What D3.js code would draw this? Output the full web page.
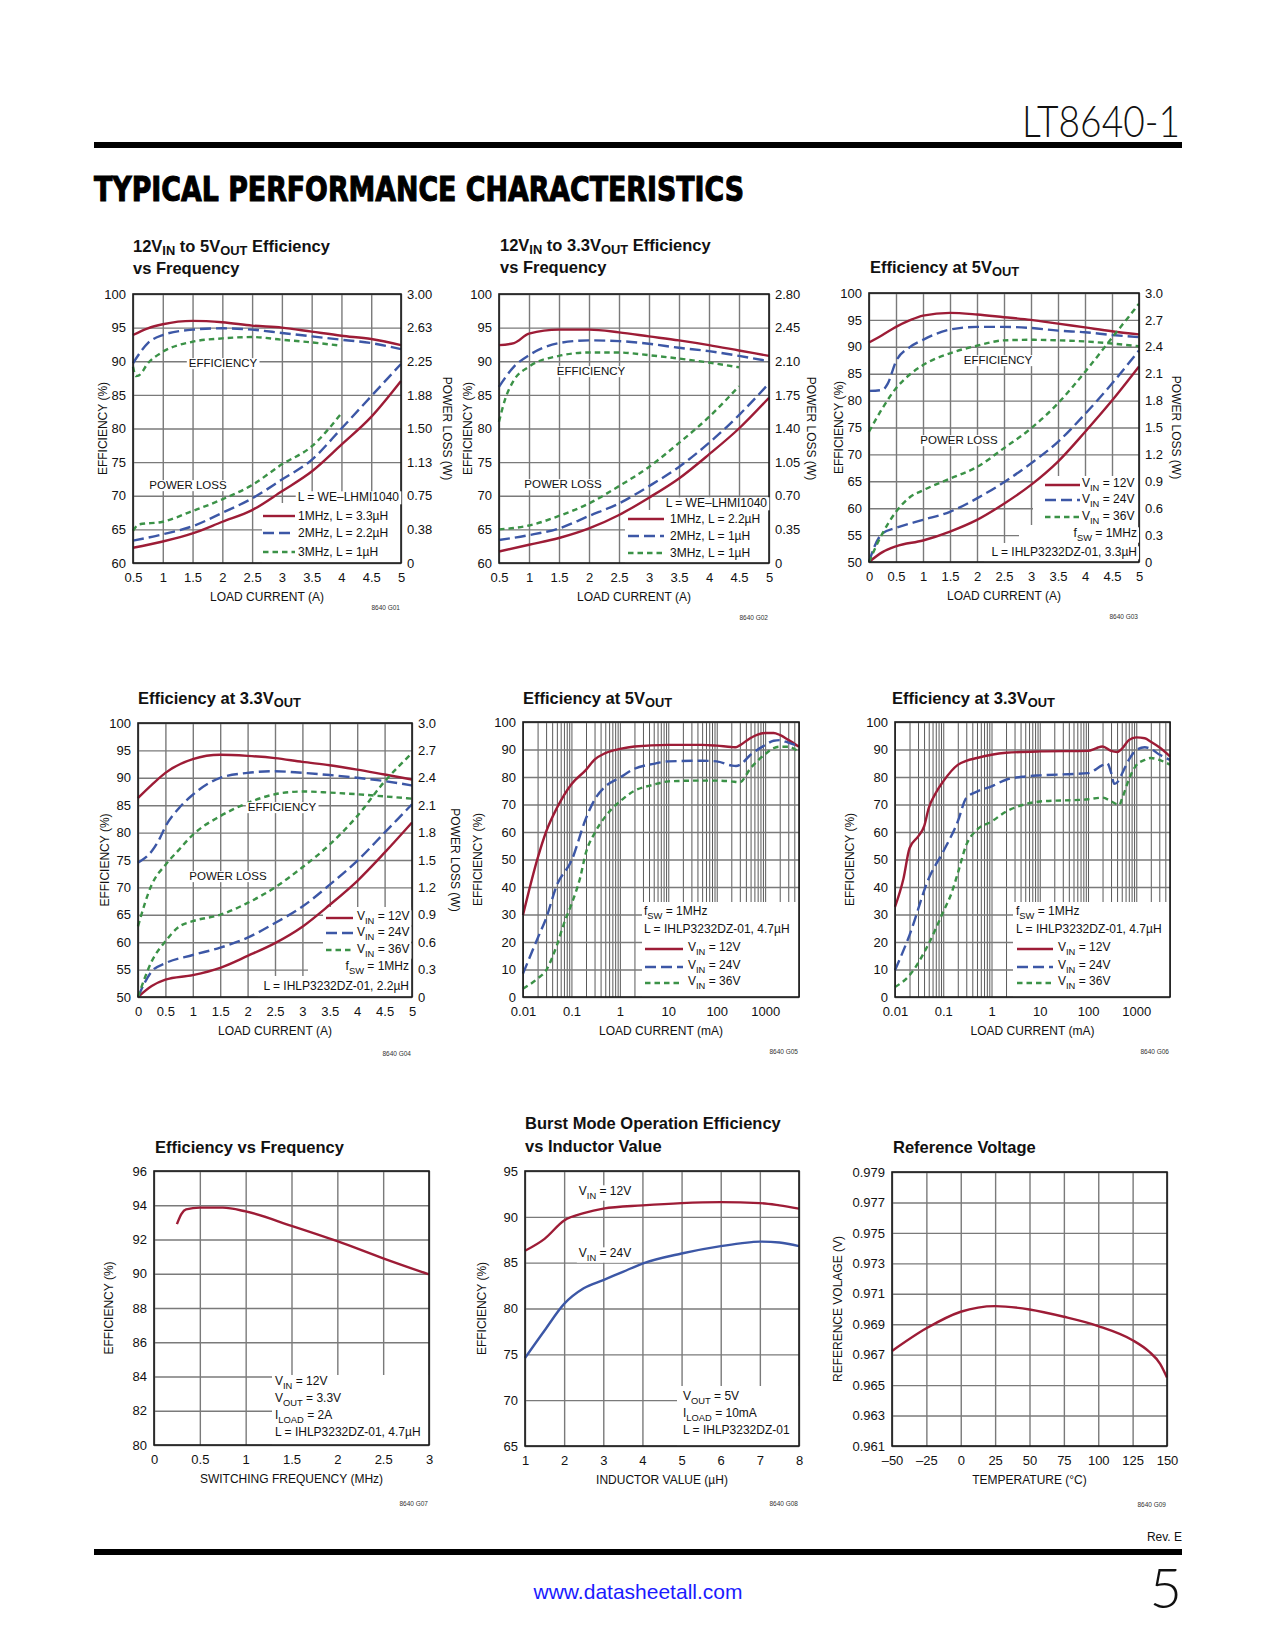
<!DOCTYPE html>
<html>
<head>
<meta charset="utf-8">
<script src="https://cdn.jsdelivr.net/npm/d3@7"></script>
<style>
  body { margin: 0; background: #fff; }
  svg { display: block; }
</style>
</head>
<body>
<script>
// LT8640-1 typical performance characteristics page (9 small charts)

// ---------- data ----------
// G01: 12Vin -> 5Vout efficiency vs frequency
const g01Load = [0.5, 0.75, 1, 1.5, 2, 2.5, 3, 3.5, 4, 4.5, 5];
const g01Eff1MHz = [93.9, 94.9, 95.5, 96.0, 95.8, 95.3, 95.0, 94.4, 93.8, 93.3, 92.4];
const g01Eff2MHz = [89.7, 92.7, 93.9, 94.7, 94.9, 94.7, 94.2, 93.7, 93.2, 92.7, 91.8];
const g01Load3MHz = [0.5, 0.55, 0.6, 0.75, 1, 1.5, 2, 2.5, 3, 3.5, 4];
const g01Eff3MHz = [89.2, 87.8, 87.9, 89.7, 91.4, 92.9, 93.4, 93.6, 93.2, 92.8, 92.3];
const g01LossLoad = [0.5, 1, 1.5, 2, 2.5, 3, 3.5, 4, 4.5, 5];
const g01Loss1MHz = [0.17, 0.24, 0.33, 0.46, 0.59, 0.80, 1.02, 1.32, 1.63, 2.03];
const g01Loss2MHz = [0.25, 0.32, 0.41, 0.56, 0.72, 0.93, 1.15, 1.50, 1.86, 2.22];
const g01LossLoad3 = [0.5, 0.6, 1, 1.5, 2, 2.5, 3, 3.5, 4];
const g01Loss3MHz = [0.36, 0.43, 0.46, 0.58, 0.71, 0.87, 1.10, 1.30, 1.67];

// G02: 12Vin -> 3.3Vout efficiency vs frequency
const g02Load = [0.5, 0.75, 1, 1.5, 2, 2.5, 3, 3.5, 4, 4.5, 5];
const g02Eff1MHz = [92.4, 92.7, 94.1, 94.7, 94.7, 94.3, 93.7, 93.1, 92.4, 91.6, 90.8];
const g02Eff2MHz = [86.2, 89.2, 90.9, 92.7, 93.1, 93.0, 92.6, 92.0, 91.5, 90.8, 90.0];
const g02Load3MHz = [0.5, 0.6, 0.75, 1, 1.5, 2, 2.5, 3, 3.5, 4, 4.5];
const g02Eff3MHz = [81.0, 84.3, 87.2, 89.2, 90.8, 91.3, 91.3, 90.9, 90.4, 89.8, 89.1];
const g02LossLoad = [0.5, 1, 1.5, 2, 2.5, 3, 3.5, 4, 4.5, 5];
const g02Loss1MHz = [0.12, 0.19, 0.26, 0.36, 0.50, 0.68, 0.88, 1.13, 1.40, 1.72];
const g02Loss2MHz = [0.24, 0.29, 0.36, 0.49, 0.62, 0.80, 1.00, 1.25, 1.54, 1.87];
const g02LossLoad3 = [0.5, 1, 1.5, 2, 2.5, 3, 3.5, 4, 4.5];
const g02Loss3MHz = [0.35, 0.39, 0.49, 0.62, 0.80, 1.00, 1.25, 1.52, 1.84];

// G03: efficiency at 5Vout
const g03Load = [0, 0.25, 0.5, 0.75, 1, 1.5, 2, 2.5, 3, 3.5, 4, 4.5, 5];
const g03Eff12V = [90.8, 92.2, 93.7, 94.9, 95.8, 96.3, 96.0, 95.5, 95.0, 94.3, 93.6, 92.9, 92.3];
const g03Load24V = [0, 0.25, 0.35, 0.5, 0.75, 1, 1.5, 2, 2.5, 3, 3.5, 4, 4.5, 5];
const g03Eff24V = [81.8, 82.0, 83.2, 87.3, 89.9, 91.3, 93.2, 93.7, 93.7, 93.5, 93.0, 92.7, 92.2, 91.8];
const g03Eff36V = [74.2, 78.6, 82.3, 84.8, 86.6, 88.8, 90.2, 91.2, 91.3, 91.2, 91.0, 90.6, 90.1];
const g03LossLoad = [0, 0.25, 0.5, 1, 1.5, 2, 2.5, 3, 3.5, 4, 4.5, 5];
const g03Loss12V = [0, 0.11, 0.175, 0.24, 0.34, 0.47, 0.65, 0.86, 1.12, 1.45, 1.80, 2.18];
const g03LossLoad24 = [0, 0.1, 0.25, 0.5, 1, 1.5, 2, 2.5, 3, 3.5, 4, 4.5, 5];
const g03Loss24V = [0, 0.17, 0.32, 0.38, 0.47, 0.56, 0.71, 0.89, 1.10, 1.34, 1.65, 1.99, 2.36];
const g03LossLoad36 = [0, 0.25, 0.5, 0.75, 1, 1.5, 2, 2.5, 3, 3.5, 4, 4.5, 5];
const g03Loss36V = [0, 0.32, 0.56, 0.72, 0.80, 0.93, 1.06, 1.27, 1.49, 1.77, 2.12, 2.50, 2.88];

// G04: efficiency at 3.3Vout
const g04Load = [0, 0.25, 0.5, 1, 1.5, 2, 2.5, 3, 3.5, 4, 4.5, 5];
const g04Eff12V = [86.3, 88.7, 90.9, 93.4, 94.2, 94.0, 93.6, 92.9, 92.3, 91.5, 90.6, 89.7];
const g04Load24V = [0, 0.25, 0.4, 0.5, 0.75, 1, 1.5, 2, 2.5, 3, 3.5, 4, 4.5, 5];
const g04Eff24V = [74.5, 76.6, 79.0, 81.1, 84.5, 86.9, 90.0, 90.9, 91.2, 90.9, 90.5, 90.0, 89.4, 88.6];
const g04Load36V = [0, 0.25, 0.5, 0.75, 1, 1.5, 2, 2.5, 3, 3.5, 4, 4.5, 5];
const g04Eff36V = [62.9, 70.5, 74.1, 76.9, 79.6, 83.0, 85.4, 87.0, 87.5, 87.3, 87.0, 86.6, 86.2];
const g04Loss12V = [0, 0.12, 0.19, 0.24, 0.32, 0.45, 0.59, 0.77, 1.01, 1.27, 1.58, 1.91];
const g04Loss24V = [0, 0.28, 0.37, 0.46, 0.54, 0.65, 0.81, 0.99, 1.23, 1.49, 1.80, 2.11];
const g04Loss36V = [0, 0.39, 0.61, 0.77, 0.83, 0.90, 1.03, 1.20, 1.42, 1.67, 1.98, 2.36, 2.67];

// G05: efficiency at 5Vout, light load (mA, log)
const g05Load12V = [0.01, 0.02, 0.03, 0.05, 0.1, 0.2, 0.3, 0.5, 1, 2, 10, 50, 100, 200, 250, 300, 500, 700, 1000, 1500, 2000, 3000, 5000];
const g05Eff12V = [29.8, 50.4, 60.1, 68.7, 77.4, 82.6, 86.3, 88.7, 90.2, 91.1, 91.7, 91.7, 91.4, 90.9, 90.8, 91.5, 94.2, 95.4, 96.0, 96.0, 95.3, 93.5, 91.0];
const g05Load24V = [0.01, 0.02, 0.03, 0.05, 0.1, 0.2, 0.3, 0.5, 1, 2, 5, 10, 50, 100, 200, 250, 300, 500, 1000, 1500, 2000, 3000, 5000];
const g05Eff24V = [8.5, 21.3, 28.6, 40.7, 49.5, 65.0, 71.7, 76.5, 79.8, 83.0, 84.8, 85.7, 85.9, 85.7, 84.2, 84.0, 84.4, 88.1, 91.6, 93.2, 93.4, 92.5, 91.1];
const g05Load36V = [0.01, 0.02, 0.03, 0.05, 0.07, 0.1, 0.15, 0.2, 0.3, 0.5, 1, 2, 5, 10, 50, 100, 200, 300, 500, 1000, 1500, 2000, 3000, 5000];
const g05Eff36V = [3.0, 6.7, 9.7, 18.8, 26.7, 33.7, 43.1, 52.6, 59.5, 65.6, 71.1, 75.0, 77.2, 78.4, 78.7, 78.7, 78.4, 78.1, 83.2, 88.3, 90.5, 91.0, 91.0, 89.0];

// G06: efficiency at 3.3Vout, light load (mA, log)
const g06Load12V = [0.01, 0.015, 0.02, 0.03, 0.04, 0.05, 0.07, 0.1, 0.2, 0.3, 0.5, 1, 2, 10, 100, 150, 200, 300, 400, 500, 700, 1000, 1500, 2000, 3000, 5000];
const g06Eff12V = [32.8, 43.1, 54.1, 58.3, 62.0, 68.7, 74.2, 78.4, 84.4, 85.9, 86.9, 88.1, 88.8, 89.3, 89.5, 90.5, 91.1, 89.5, 89.1, 90.2, 93.4, 94.4, 94.1, 92.8, 90.8, 87.5];
const g06Load24V = [0.01, 0.02, 0.05, 0.1, 0.2, 0.3, 0.5, 1, 2, 5, 10, 50, 100, 200, 250, 300, 350, 400, 500, 700, 1000, 1500, 2000, 3000, 5000];
const g06Eff24V = [9.7, 22.5, 43.1, 52.9, 63.8, 72.4, 74.7, 76.6, 79.0, 80.2, 80.6, 81.1, 81.4, 84.3, 85.0, 81.7, 77.5, 78.0, 81.0, 86.2, 89.8, 90.8, 90.2, 88.2, 86.2];
const g06Load36V = [0.01, 0.02, 0.05, 0.1, 0.15, 0.2, 0.3, 0.5, 1, 2, 5, 10, 100, 200, 300, 400, 450, 500, 700, 1000, 1500, 2000, 3000, 5000];
const g06Eff36V = [3.6, 7.9, 19.4, 31.0, 38.0, 45.0, 55.3, 60.8, 63.8, 67.4, 70.1, 71.1, 71.9, 72.5, 71.2, 70.1, 69.9, 71.8, 79.0, 84.3, 86.2, 86.9, 86.2, 84.5];

// G07: efficiency vs switching frequency
const g07Freq = [0.25, 0.3, 0.35, 0.5, 0.75, 1, 1.5, 2, 2.5, 3];
const g07Eff = [92.9, 93.5, 93.76, 93.86, 93.86, 93.64, 92.8, 91.9, 90.9, 89.96];

// G08: Burst Mode efficiency vs inductor value
const g08L12V = [1, 1.5, 2, 2.5, 3, 4, 5, 6, 7, 7.5, 8];
const g08Eff12V = [86.3, 87.6, 89.6, 90.4, 90.9, 91.25, 91.5, 91.6, 91.5, 91.25, 90.9];
const g08L24V = [1, 1.5, 2, 2.5, 3, 3.5, 4, 5, 6, 6.5, 7, 7.5, 8];
const g08Eff24V = [74.6, 77.6, 80.5, 82.2, 83.1, 84.0, 84.9, 86.0, 86.8, 87.1, 87.3, 87.2, 86.8];

// G09: reference voltage vs temperature
const g09Temp = [-50, -25, 0, 25, 50, 75, 100, 125, 137, 145, 150];
const g09Vref = [0.96724, 0.96873, 0.96982, 0.97019, 0.96997, 0.96949, 0.96888, 0.96795, 0.9672, 0.9664, 0.9655];

// ---------- ticks ----------
const loadTicksHalf = [0.5, 1, 1.5, 2, 2.5, 3, 3.5, 4, 4.5, 5];
const loadTicksZero = [0, 0.5, 1, 1.5, 2, 2.5, 3, 3.5, 4, 4.5, 5];
const effTicks60 = [60, 65, 70, 75, 80, 85, 90, 95, 100];
const effTicks50 = [50, 55, 60, 65, 70, 75, 80, 85, 90, 95, 100];
const effTicks0 = [0, 10, 20, 30, 40, 50, 60, 70, 80, 90, 100];
const lossTicks300 = [0, 0.375, 0.75, 1.125, 1.5, 1.875, 2.25, 2.625, 3];
const lossLabels300 = ["0", "0.38", "0.75", "1.13", "1.50", "1.88", "2.25", "2.63", "3.00"];
const lossTicks280 = [0, 0.35, 0.7, 1.05, 1.4, 1.75, 2.1, 2.45, 2.8];
const lossLabels280 = ["0", "0.35", "0.70", "1.05", "1.40", "1.75", "2.10", "2.45", "2.80"];
const lossTicks30 = [0, 0.3, 0.6, 0.9, 1.2, 1.5, 1.8, 2.1, 2.4, 2.7, 3.0];
const lossLabels30 = ["0", "0.3", "0.6", "0.9", "1.2", "1.5", "1.8", "2.1", "2.4", "2.7", "3.0"];
const mATicks = [0.01, 0.1, 1, 10, 100, 1000];
const freqTicks = [0, 0.5, 1, 1.5, 2, 2.5, 3];
const eff96Ticks = [80, 82, 84, 86, 88, 90, 92, 94, 96];
const inductorTicks = [1, 2, 3, 4, 5, 6, 7, 8];
const eff95Ticks = [65, 70, 75, 80, 85, 90, 95];
const tempTicks = [-50, -25, 0, 25, 50, 75, 100, 125, 150];
const vrefTicks = [0.961, 0.963, 0.965, 0.967, 0.969, 0.971, 0.973, 0.975, 0.977, 0.979];

// log grid: 1..9 per decade
const logGrid = [];
for (let e = -2; e <= 3; e++) {
    for (let k = 1; k <= 9; k++) {
        const v = +(k * Math.pow(10, e)).toPrecision(3);
        if (v <= 5000) logGrid.push(v);
    }
}

// ---------- styles ----------
const FONT = "'Liberation Sans', Arial, Helvetica, sans-serif";
const TITLE_SIZE = 16.5;
const GRID = "#7a7a7a";
const RED = "#9d1c36", BLUE = "#3c57a6", GREEN = "#3b9247";
const SOLID = null, LONG = "11,5", SHORT = "5.5,4";

const svg = d3.select("body").append("svg")
    .attr("width", 1275)
    .attr("height", 1650)
    .attr("font-family", FONT);

svg.append("rect").attr("width", 1275).attr("height", 1650).attr("fill", "#fff");

// text with _{sub} markup
function rich(sel, str, size, drop = 0.28) {
    const parts = str.split(/(_\{[^}]*\})/).filter(s => s.length);
    const shift = size * drop;
    let down = false;
    parts.forEach(p => {
        const sub = p.startsWith("_{");
        const t = sel.append("tspan").text(sub ? p.slice(2, -1) : p);
        if (sub) {
            t.attr("font-size", size * 0.78).attr("dy", shift);
            down = true;
        } else if (down) {
            t.attr("dy", -shift);
            down = false;
        }
    });
}

// label with a white box behind it so grid lines break around it
function note(g, str, x, y, anchor, size) {
    const grp = g.append("g");
    const box = grp.append("rect").attr("fill", "#fff");
    const t = grp.append("text")
        .attr("x", x)
        .attr("y", y + size * 0.36)
        .attr("text-anchor", anchor)
        .attr("font-size", size)
        .attr("fill", "#111");
    rich(t, str, size);
    const b = t.node().getBBox();
    box.attr("x", b.x - 2).attr("y", b.y + 1).attr("width", b.width + 4).attr("height", b.height - 1);
}

function drawChart(c) {
    const g = svg.append("g");
    const w = c.right - c.left, h = c.bottom - c.top;

    const x = (c.log ? d3.scaleLog() : d3.scaleLinear()).domain(c.xDomain).range([c.left, c.right]);
    const y = d3.scaleLinear().domain(c.yDomain).range([c.bottom, c.top]);
    const y2 = d3.scaleLinear().domain(c.y2Domain || c.yDomain).range([c.bottom, c.top]);

    // grid
    g.append("g")
        .attr("transform", `translate(0,${c.bottom})`)
        .call(d3.axisBottom(x).tickValues(c.xGrid).tickSize(-h).tickFormat(""))
        .call(a => a.select(".domain").remove())
        .selectAll("line")
        .attr("stroke", c.log ? "#5a5a5a" : GRID)
        .attr("stroke-width", c.log ? 1 : 1.4);

    g.append("g")
        .attr("transform", `translate(${c.left},0)`)
        .call(d3.axisLeft(y).tickValues(c.yTicks).tickSize(-w).tickFormat(""))
        .call(a => a.select(".domain").remove())
        .selectAll("line")
        .attr("stroke", GRID)
        .attr("stroke-width", 1.4);

    // legend areas are blanked
    (c.masks || []).forEach(([x0, y0, x1, y1]) => {
        g.append("rect")
            .attr("x", c.left + x0).attr("y", c.top + y0)
            .attr("width", x1 - x0).attr("height", y1 - y0)
            .attr("fill", "#fff");
    });

    // curves
    c.series.forEach(s => {
        const ys = s.right ? y2 : y;
        const line = d3.line()
            .x(d => x(d[0]))
            .y(d => ys(d[1]))
            .curve(d3.curveMonotoneX);
        g.append("path")
            .datum(d3.zip(s.x, s.y))
            .attr("fill", "none")
            .attr("stroke", s.color)
            .attr("stroke-width", 2.4)
            .attr("stroke-dasharray", s.dash)
            .attr("d", line);
    });

    // frame
    g.append("rect")
        .attr("x", c.left).attr("y", c.top)
        .attr("width", w).attr("height", h)
        .attr("fill", "none")
        .attr("stroke", "#1a1a1a")
        .attr("stroke-width", 1.6);

    // tick labels
    const styleAxis = a => {
        a.select(".domain").remove();
        a.attr("font-family", FONT).attr("font-size", 13).attr("color", "#111");
    };
    g.append("g")
        .attr("transform", `translate(${c.left},0)`)
        .call(d3.axisLeft(y).tickValues(c.yTicks).tickSize(0).tickPadding(7).tickFormat(c.yFormat || (d => d)))
        .call(styleAxis);
    g.append("g")
        .attr("transform", `translate(0,${c.bottom})`)
        .call(d3.axisBottom(x).tickValues(c.xTicks).tickSize(0).tickPadding(10).tickFormat(c.xFormat || (d => d)))
        .call(styleAxis);
    if (c.y2Ticks) {
        g.append("g")
            .attr("transform", `translate(${c.right},0)`)
            .call(d3.axisRight(y2).tickValues(c.y2Ticks).tickSize(0).tickPadding(6).tickFormat((d, i) => c.y2Labels[i]))
            .call(styleAxis);
    }

    // axis titles
    g.append("text")
        .attr("x", (c.left + c.right) / 2)
        .attr("y", c.bottom + 38)
        .attr("text-anchor", "middle")
        .attr("font-size", 12)
        .attr("fill", "#111")
        .text(c.xLabel);
    g.append("text")
        .attr("transform", `translate(${c.left + c.yLabelDx},${(c.top + c.bottom) / 2}) rotate(-90)`)
        .attr("text-anchor", "middle")
        .attr("dy", "0.35em")
        .attr("font-size", 12)
        .attr("fill", "#111")
        .text(c.yLabel);
    if (c.y2Label) {
        g.append("text")
            .attr("transform", `translate(${c.right + c.y2LabelDx},${(c.top + c.bottom) / 2}) rotate(90)`)
            .attr("text-anchor", "middle")
            .attr("dy", "0.35em")
            .attr("font-size", 12)
            .attr("fill", "#111")
            .text(c.y2Label);
    }

    // chart title
    c.title.forEach((line, i) => {
        const t = g.append("text")
            .attr("x", c.titleX)
            .attr("y", c.titleY[i])
            .attr("font-weight", "bold")
            .attr("font-size", TITLE_SIZE)
            .attr("fill", "#111");
        rich(t, line, TITLE_SIZE, 0.2);
    });

    // in-plot labels and legend
    (c.notes || []).forEach(n => note(g, n.t, c.left + n.x, c.top + n.y, n.a || "middle", n.size || 12));
    (c.keys || []).forEach(k => {
        const s = c.series[k.s];
        g.append("line")
            .attr("x1", c.left + k.x0).attr("x2", c.left + k.x1)
            .attr("y1", c.top + k.y).attr("y2", c.top + k.y)
            .attr("stroke", s.color)
            .attr("stroke-width", 2.4)
            .attr("stroke-dasharray", s.dash);
    });

    // figure id
    g.append("text")
        .attr("x", c.right - 1)
        .attr("y", c.bottom + c.idDy)
        .attr("text-anchor", "end")
        .attr("font-size", 6.5)
        .attr("fill", "#333")
        .text(c.id);
}

// ---------- page header ----------
svg.append("text")
    .attr("x", 1180).attr("y", 137)
    .attr("text-anchor", "end")
    .attr("font-family", "Lato, 'DejaVu Sans', sans-serif")
    .attr("font-weight", 300)
    .attr("font-size", 43)
    .attr("textLength", 158)
    .attr("lengthAdjust", "spacingAndGlyphs")
    .attr("fill", "#111")
    .text("LT8640-1");

svg.append("rect").attr("x", 94).attr("y", 142).attr("width", 1088).attr("height", 6).attr("fill", "#000");

svg.append("text")
    .attr("x", 94).attr("y", 201)
    .attr("font-family", "'DejaVu Sans', sans-serif")
    .attr("font-weight", "bold")
    .attr("font-size", 34)
    .attr("textLength", 650)
    .attr("lengthAdjust", "spacingAndGlyphs")
    .attr("fill", "#000")
    .attr("stroke", "#000")
    .attr("stroke-width", 1.1)
    .text("TYPICAL PERFORMANCE CHARACTERISTICS");

// ---------- charts ----------
const effNotes = (ex, ey, px, py) => [
    { t: "EFFICIENCY", x: ex, y: ey, size: 11.5 },
    { t: "POWER LOSS", x: px, y: py, size: 11.5 }
];

drawChart({
    id: "8640 G01", idDy: 47,
    left: 133, right: 401, top: 294, bottom: 563,
    xDomain: [0.5, 5], yDomain: [60, 100], y2Domain: [0, 3],
    xGrid: loadTicksHalf, xTicks: loadTicksHalf, yTicks: effTicks60,
    y2Ticks: lossTicks300, y2Labels: lossLabels300,
    xLabel: "LOAD CURRENT (A)", yLabel: "EFFICIENCY (%)", yLabelDx: -30,
    y2Label: "POWER LOSS (W)", y2LabelDx: 46,
    title: ["12V_{IN} to 5V_{OUT} Efficiency", "vs Frequency"], titleX: 133, titleY: [252, 274],
    series: [
        { x: g01Load, y: g01Eff1MHz, color: RED, dash: SOLID },
        { x: g01Load, y: g01Eff2MHz, color: BLUE, dash: LONG },
        { x: g01Load3MHz, y: g01Eff3MHz, color: GREEN, dash: SHORT },
        { x: g01LossLoad, y: g01Loss1MHz, color: RED, dash: SOLID, right: true },
        { x: g01LossLoad, y: g01Loss2MHz, color: BLUE, dash: LONG, right: true },
        { x: g01LossLoad3, y: g01Loss3MHz, color: GREEN, dash: SHORT, right: true }
    ],
    masks: [[129, 209, 268, 269]],
    notes: effNotes(90, 69, 55, 191).concat([
        { t: "L = WE–LHMI1040", x: 266, y: 203, a: "end" },
        { t: "1MHz, L = 3.3µH", x: 165, y: 222, a: "start" },
        { t: "2MHz, L = 2.2µH", x: 165, y: 239, a: "start" },
        { t: "3MHz, L = 1µH", x: 165, y: 258, a: "start" }
    ]),
    keys: [{ s: 0, x0: 130, x1: 162, y: 222 }, { s: 1, x0: 130, x1: 162, y: 239 }, { s: 2, x0: 130, x1: 162, y: 258 }]
});

drawChart({
    id: "8640 G02", idDy: 57,
    left: 499, right: 769, top: 294, bottom: 563,
    xDomain: [0.5, 5], yDomain: [60, 100], y2Domain: [0, 2.8],
    xGrid: loadTicksHalf, xTicks: loadTicksHalf, yTicks: effTicks60,
    y2Ticks: lossTicks280, y2Labels: lossLabels280,
    xLabel: "LOAD CURRENT (A)", yLabel: "EFFICIENCY (%)", yLabelDx: -31,
    y2Label: "POWER LOSS (W)", y2LabelDx: 42,
    title: ["12V_{IN} to 3.3V_{OUT} Efficiency", "vs Frequency"], titleX: 500, titleY: [251, 273],
    series: [
        { x: g02Load, y: g02Eff1MHz, color: RED, dash: SOLID },
        { x: g02Load, y: g02Eff2MHz, color: BLUE, dash: LONG },
        { x: g02Load3MHz, y: g02Eff3MHz, color: GREEN, dash: SHORT },
        { x: g02LossLoad, y: g02Loss1MHz, color: RED, dash: SOLID, right: true },
        { x: g02LossLoad, y: g02Loss2MHz, color: BLUE, dash: LONG, right: true },
        { x: g02LossLoad3, y: g02Loss3MHz, color: GREEN, dash: SHORT, right: true }
    ],
    masks: [[126, 216, 270, 269]],
    notes: effNotes(92, 77, 64, 190).concat([
        { t: "L = WE–LHMI1040", x: 268, y: 209, a: "end" },
        { t: "1MHz, L = 2.2µH", x: 171, y: 225, a: "start" },
        { t: "2MHz, L = 1µH", x: 171, y: 242, a: "start" },
        { t: "3MHz, L = 1µH", x: 171, y: 259, a: "start" }
    ]),
    keys: [{ s: 0, x0: 129, x1: 165, y: 225 }, { s: 1, x0: 129, x1: 165, y: 242 }, { s: 2, x0: 129, x1: 165, y: 259 }]
});

drawChart({
    id: "8640 G03", idDy: 57,
    left: 869, right: 1139, top: 293, bottom: 562,
    xDomain: [0, 5], yDomain: [50, 100], y2Domain: [0, 3],
    xGrid: loadTicksZero, xTicks: loadTicksZero, yTicks: effTicks50,
    y2Ticks: lossTicks30, y2Labels: lossLabels30,
    xLabel: "LOAD CURRENT (A)", yLabel: "EFFICIENCY (%)", yLabelDx: -30,
    y2Label: "POWER LOSS (W)", y2LabelDx: 37,
    title: ["Efficiency at 5V_{OUT}"], titleX: 870, titleY: [273],
    series: [
        { x: g03Load, y: g03Eff12V, color: RED, dash: SOLID },
        { x: g03Load24V, y: g03Eff24V, color: BLUE, dash: LONG },
        { x: g03Load, y: g03Eff36V, color: GREEN, dash: SHORT },
        { x: g03LossLoad, y: g03Loss12V, color: RED, dash: SOLID, right: true },
        { x: g03LossLoad24, y: g03Loss24V, color: BLUE, dash: LONG, right: true },
        { x: g03LossLoad36, y: g03Loss36V, color: GREEN, dash: SHORT, right: true }
    ],
    masks: [[164, 183, 270, 269], [150, 232, 270, 269], [115, 250, 270, 269]],
    notes: effNotes(129, 67, 90, 147).concat([
        { t: "V_{IN} = 12V", x: 213, y: 190, a: "start" },
        { t: "V_{IN} = 24V", x: 213, y: 206, a: "start" },
        { t: "V_{IN} = 36V", x: 213, y: 223, a: "start" },
        { t: "f_{SW} = 1MHz", x: 268, y: 240, a: "end" },
        { t: "L = IHLP3232DZ-01, 3.3µH", x: 268, y: 259, a: "end" }
    ]),
    keys: [{ s: 0, x0: 176, x1: 211, y: 192 }, { s: 1, x0: 176, x1: 211, y: 207 }, { s: 2, x0: 176, x1: 211, y: 224 }]
});

drawChart({
    id: "8640 G04", idDy: 59,
    left: 138, right: 412, top: 723, bottom: 997,
    xDomain: [0, 5], yDomain: [50, 100], y2Domain: [0, 3],
    xGrid: loadTicksZero, xTicks: loadTicksZero, yTicks: effTicks50,
    y2Ticks: lossTicks30, y2Labels: lossLabels30,
    xLabel: "LOAD CURRENT (A)", yLabel: "EFFICIENCY (%)", yLabelDx: -33,
    y2Label: "POWER LOSS (W)", y2LabelDx: 43,
    title: ["Efficiency at 3.3V_{OUT}"], titleX: 138, titleY: [704],
    series: [
        { x: g04Load, y: g04Eff12V, color: RED, dash: SOLID },
        { x: g04Load24V, y: g04Eff24V, color: BLUE, dash: LONG },
        { x: g04Load36V, y: g04Eff36V, color: GREEN, dash: SHORT },
        { x: g04Load, y: g04Loss12V, color: RED, dash: SOLID, right: true },
        { x: g04Load, y: g04Loss24V, color: BLUE, dash: LONG, right: true },
        { x: g04Load36V, y: g04Loss36V, color: GREEN, dash: SHORT, right: true }
    ],
    masks: [[185, 184, 274, 274], [170, 234, 274, 274], [120, 253, 274, 274]],
    notes: effNotes(144, 84, 90, 153).concat([
        { t: "V_{IN} = 12V", x: 219, y: 193, a: "start" },
        { t: "V_{IN} = 24V", x: 219, y: 209, a: "start" },
        { t: "V_{IN} = 36V", x: 219, y: 226, a: "start" },
        { t: "f_{SW} = 1MHz", x: 271, y: 243, a: "end" },
        { t: "L = IHLP3232DZ-01, 2.2µH", x: 271, y: 263, a: "end" }
    ]),
    keys: [{ s: 0, x0: 188, x1: 215, y: 195 }, { s: 1, x0: 188, x1: 215, y: 210 }, { s: 2, x0: 188, x1: 215, y: 227 }]
});

drawChart({
    id: "8640 G05", idDy: 57,
    left: 523, right: 799, top: 722, bottom: 997, log: true,
    xDomain: [0.01, 5000], yDomain: [0, 100],
    xGrid: logGrid, xTicks: mATicks, yTicks: effTicks0,
    xLabel: "LOAD CURRENT (mA)", yLabel: "EFFICIENCY (%)", yLabelDx: -45,
    title: ["Efficiency at 5V_{OUT}"], titleX: 523, titleY: [704],
    series: [
        { x: g05Load12V, y: g05Eff12V, color: RED, dash: SOLID },
        { x: g05Load24V, y: g05Eff24V, color: BLUE, dash: LONG },
        { x: g05Load36V, y: g05Eff36V, color: GREEN, dash: SHORT }
    ],
    masks: [[119, 180, 276, 275]],
    notes: [
        { t: "f_{SW} = 1MHz", x: 121, y: 189, a: "start" },
        { t: "L = IHLP3232DZ-01, 4.7µH", x: 121, y: 207, a: "start" },
        { t: "V_{IN} = 12V", x: 165, y: 225, a: "start" },
        { t: "V_{IN} = 24V", x: 165, y: 243, a: "start" },
        { t: "V_{IN} = 36V", x: 165, y: 259, a: "start" }
    ],
    keys: [{ s: 0, x0: 122, x1: 160, y: 227 }, { s: 1, x0: 122, x1: 160, y: 245 }, { s: 2, x0: 122, x1: 160, y: 261 }]
});

drawChart({
    id: "8640 G06", idDy: 57,
    left: 895, right: 1170, top: 722, bottom: 997, log: true,
    xDomain: [0.01, 5000], yDomain: [0, 100],
    xGrid: logGrid, xTicks: mATicks, yTicks: effTicks0,
    xLabel: "LOAD CURRENT (mA)", yLabel: "EFFICIENCY (%)", yLabelDx: -45,
    title: ["Efficiency at 3.3V_{OUT}"], titleX: 892, titleY: [704],
    series: [
        { x: g06Load12V, y: g06Eff12V, color: RED, dash: SOLID },
        { x: g06Load24V, y: g06Eff24V, color: BLUE, dash: LONG },
        { x: g06Load36V, y: g06Eff36V, color: GREEN, dash: SHORT }
    ],
    masks: [[118, 180, 275, 275]],
    notes: [
        { t: "f_{SW} = 1MHz", x: 121, y: 189, a: "start" },
        { t: "L = IHLP3232DZ-01, 4.7µH", x: 121, y: 207, a: "start" },
        { t: "V_{IN} = 12V", x: 163, y: 225, a: "start" },
        { t: "V_{IN} = 24V", x: 163, y: 243, a: "start" },
        { t: "V_{IN} = 36V", x: 163, y: 259, a: "start" }
    ],
    keys: [{ s: 0, x0: 122, x1: 158, y: 227 }, { s: 1, x0: 122, x1: 158, y: 245 }, { s: 2, x0: 122, x1: 158, y: 261 }]
});

drawChart({
    id: "8640 G07", idDy: 61,
    left: 154, right: 429, top: 1171, bottom: 1445,
    xDomain: [0, 3], yDomain: [80, 96],
    xGrid: freqTicks, xTicks: freqTicks, yTicks: eff96Ticks,
    xLabel: "SWITCHING FREQUENCY (MHz)", yLabel: "EFFICIENCY (%)", yLabelDx: -45,
    title: ["Efficiency vs Frequency"], titleX: 155, titleY: [1153],
    series: [{ x: g07Freq, y: g07Eff, color: RED, dash: SOLID }],
    masks: [[118, 204, 275, 274]],
    notes: [
        { t: "V_{IN} = 12V", x: 121, y: 210, a: "start" },
        { t: "V_{OUT} = 3.3V", x: 121, y: 227, a: "start" },
        { t: "I_{LOAD} = 2A", x: 121, y: 244, a: "start" },
        { t: "L = IHLP3232DZ-01, 4.7µH", x: 121, y: 261, a: "start" }
    ]
});

drawChart({
    id: "8640 G08", idDy: 60,
    left: 525, right: 799, top: 1171, bottom: 1446,
    xDomain: [1, 8], yDomain: [65, 95],
    xGrid: inductorTicks, xTicks: inductorTicks, yTicks: eff95Ticks,
    xLabel: "INDUCTOR VALUE (µH)", yLabel: "EFFICIENCY (%)", yLabelDx: -43,
    title: ["Burst Mode Operation Efficiency", "vs Inductor Value"], titleX: 525, titleY: [1129, 1152],
    series: [
        { x: g08L12V, y: g08Eff12V, color: RED, dash: SOLID },
        { x: g08L24V, y: g08Eff24V, color: BLUE, dash: SOLID }
    ],
    masks: [[152, 215, 274, 275]],
    notes: [
        { t: "V_{IN} = 12V", x: 80, y: 20 },
        { t: "V_{IN} = 24V", x: 80, y: 82 },
        { t: "V_{OUT} = 5V", x: 158, y: 225, a: "start" },
        { t: "I_{LOAD} = 10mA", x: 158, y: 242, a: "start" },
        { t: "L = IHLP3232DZ-01", x: 158, y: 259, a: "start" }
    ]
});

drawChart({
    id: "8640 G09", idDy: 61,
    left: 892, right: 1167, top: 1172, bottom: 1446,
    xDomain: [-50, 150], yDomain: [0.961, 0.979],
    xGrid: tempTicks, xTicks: tempTicks, yTicks: vrefTicks,
    xFormat: d => String(d).replace("-", "–"), yFormat: d3.format(".3f"),
    xLabel: "TEMPERATURE (°C)", yLabel: "REFERENCE VOLAGE (V)", yLabelDx: -54,
    title: ["Reference Voltage"], titleX: 893, titleY: [1153],
    series: [{ x: g09Temp, y: g09Vref, color: RED, dash: SOLID }]
});

// ---------- page footer ----------
svg.append("text")
    .attr("x", 1182).attr("y", 1541)
    .attr("text-anchor", "end")
    .attr("font-size", 12)
    .attr("fill", "#111")
    .text("Rev. E");

svg.append("rect").attr("x", 94).attr("y", 1549).attr("width", 1088).attr("height", 6).attr("fill", "#000");

svg.append("text")
    .attr("x", 638).attr("y", 1599)
    .attr("text-anchor", "middle")
    .attr("font-size", 21)
    .attr("fill", "#1a1aff")
    .text("www.datasheetall.com");

svg.append("text")
    .attr("x", 1182).attr("y", 1608)
    .attr("text-anchor", "end")
    .attr("font-family", "Lato, 'DejaVu Sans', sans-serif")
    .attr("font-weight", 300)
    .attr("font-size", 56)
    .attr("fill", "#111")
    .text("5");
</script>
</body>
</html>
